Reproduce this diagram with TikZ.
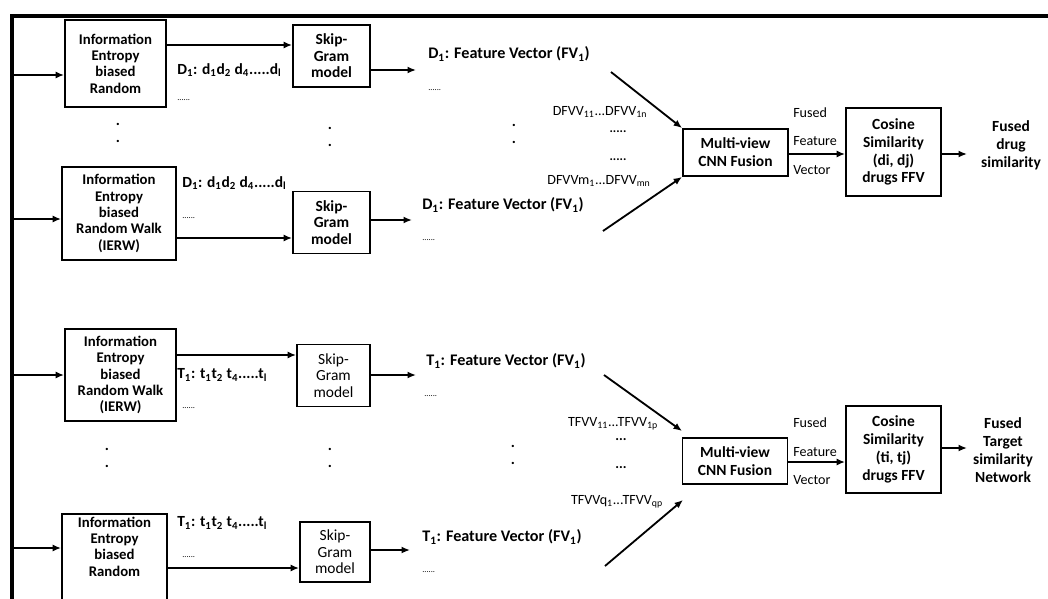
\documentclass[tikz,border=0pt]{standalone}
\usepackage{fontspec}
\setmainfont{Carlito}
\usetikzlibrary{arrows.meta}

\tikzset{
  walkbox/.style={draw, line width=1.3pt, align=center, inner sep=2pt,
    font=\bfseries\fontsize{10.5}{11.6}\selectfont},
  skipbox/.style={draw, line width=1.3pt, align=center, inner sep=1pt,
    minimum height=1.55cm, font=\bfseries\fontsize{11}{11.8}\selectfont},
  skipboxT/.style={skipbox, font=\fontsize{11}{11.8}\selectfont},
  fusebox/.style={draw, line width=1.3pt, align=center, inner sep=1pt,
    font=\bfseries\fontsize{11}{12.7}\selectfont},
  seqlab/.style={anchor=west, inner sep=0pt, font=\bfseries\fontsize{11}{12}\selectfont},
  veclab/.style={anchor=west, inner sep=0pt, font=\bfseries\fontsize{11.5}{12}\selectfont},
  viewlab/.style={inner sep=0pt, font=\fontsize{10}{11}\selectfont},
  fflab/.style={anchor=west, inner sep=0pt, font=\fontsize{10}{11}\selectfont},
  tinydots/.style={anchor=west, inner sep=0pt, font=\fontsize{6}{6}\selectfont},
  vdots/.style={align=center, inner sep=0pt, font=\bfseries\fontsize{11}{11.6}\selectfont},
  outlab/.style={align=center, inner sep=0pt, font=\bfseries\fontsize{11}{12.7}\selectfont},
  arr/.style={-{Latex[length=6pt,width=5pt]}, line width=1.3pt},
}

\begin{document}
\begin{tikzpicture}[x=0.025cm, y=-0.025cm]
  \useasboundingbox (0,0) rectangle (1048,599);
  \clip (0,0) rectangle (1048,599);

  % frame
  \coordinate (topL) at (10,16);
  \coordinate (topR) at (1048,16);
  \coordinate (botL) at (12,600);
  \draw[line width=2.4pt] (topR) -- (12,16) -- (botL);

  % drug side
  \node[walkbox, minimum width=2.525cm, minimum height=2.175cm] (walkD1) at (115.5,63.5) {Information\\Entropy\\biased\\Random};
  \node[walkbox, minimum width=2.85cm, minimum height=2.325cm] (walkD2) at (119,213.5) {Information\\Entropy\\biased\\Random Walk\\(IERW)};
  \node[skipbox, minimum width=1.925cm] (skipD1) at (331.5,56) {Skip-\\Gram\\model};
  \node[skipbox, minimum width=1.925cm] (skipD2) at (331.5,222.5) {Skip-\\Gram\\model};

  \node[seqlab] (seqD1) at (177,70) {D\textsubscript{1}: d\textsubscript{1}d\textsubscript{2} d\textsubscript{4}.....d\textsubscript{l}};
  \node[tinydots] (dotD1) at (177,100) {......};
  \node[seqlab] (seqD2) at (182,183) {D\textsubscript{1}: d\textsubscript{1}d\textsubscript{2} d\textsubscript{4}.....d\textsubscript{l}};
  \node[tinydots] (dotD2) at (182,218) {......};

  \node[veclab] (fvD1) at (428,54) {D\textsubscript{1}: Feature Vector (FV\textsubscript{1})};
  \node[tinydots] (fdotD1) at (428,90) {......};
  \node[veclab] (fvD2) at (422,205) {D\textsubscript{1}: Feature Vector (FV\textsubscript{1})};
  \node[tinydots] (fdotD2) at (422,240) {......};

  \node[vdots] (vdD1) at (118,133) {.\\.};
  \node[vdots] (vdD2) at (330,137) {.\\.};
  \node[vdots] (vdD3) at (514,134) {.\\.};

  \node[viewlab] (dfvA) at (600,112) {DFVV\textsubscript{11}...DFVV\textsubscript{1n}};
  \node[viewlab, font=\bfseries\fontsize{9}{10}\selectfont] (dfvdotA) at (618,132) {.....};
  \node[viewlab, font=\bfseries\fontsize{9}{10}\selectfont] (dfvdotB) at (618,160) {.....};
  \node[viewlab] (dfvB) at (599,181) {DFVVm\textsubscript{1}...DFVV\textsubscript{mn}};

  \node[fusebox, minimum width=2.625cm, minimum height=1.175cm] (cnnD) at (735.5,152.5) {Multi-view\\CNN Fusion};
  \node[fusebox, minimum width=2.375cm, minimum height=2.2cm] (cosD) at (893.5,152) {Cosine\\Similarity\\(di, dj)\\drugs FFV};
  \node[outlab] (outD) at (1011,145) {Fused\\drug\\similarity};
  \node[fflab] (fusD) at (793,113) {Fused};
  \node[fflab] (feaD) at (793,141) {Feature};
  \node[fflab] (vecD) at (793,170) {Vector};

  % target side
  \node[walkbox, minimum width=2.775cm, minimum height=2.3cm] (walkT1) at (120.5,375) {Information\\Entropy\\biased\\Random Walk\\(IERW)};
  \node[walkbox, minimum width=2.625cm, anchor=north, text depth=48pt] (walkT2) at (114.5,513) {Information\\Entropy\\biased\\Random};
  \node[skipboxT, minimum width=1.825cm] (skipT1) at (333.5,375.5) {Skip-\\Gram\\model};
  \node[skipboxT, minimum width=1.75cm, minimum height=1.5cm] (skipT2) at (335,552) {Skip-\\Gram\\model};

  \node[seqlab] (seqT1) at (177,375) {T\textsubscript{1}: t\textsubscript{1}t\textsubscript{2} t\textsubscript{4}.....t\textsubscript{l}};
  \node[tinydots] (dotT1) at (182,408) {......};
  \node[seqlab] (seqT2) at (177,523) {T\textsubscript{1}: t\textsubscript{1}t\textsubscript{2} t\textsubscript{4}.....t\textsubscript{l}};
  \node[tinydots] (dotT2) at (182,557) {......};

  \node[veclab] (fvT1) at (426,361) {T\textsubscript{1}: Feature Vector (FV\textsubscript{1})};
  \node[tinydots] (fdotT1) at (424,396) {......};
  \node[veclab] (fvT2) at (422,537) {T\textsubscript{1}: Feature Vector (FV\textsubscript{1})};
  \node[tinydots] (fdotT2) at (422,572) {......};

  \node[vdots] (vdT1) at (107,458) {.\\.};
  \node[vdots] (vdT2) at (330,458) {.\\.};
  \node[vdots] (vdT3) at (513,455) {.\\.};

  \node[viewlab] (tfvA) at (613,424) {TFVV\textsubscript{11}...TFVV\textsubscript{1p}};
  \node[viewlab, font=\bfseries\fontsize{10}{11}\selectfont] (tfvdotA) at (621,440) {...};
  \node[viewlab, font=\bfseries\fontsize{10}{11}\selectfont] (tfvdotB) at (621,468) {...};
  \node[viewlab] (tfvB) at (617,502) {TFVVq\textsubscript{1}...TFVV\textsubscript{qp}};

  \node[fusebox, minimum width=2.625cm, minimum height=1.15cm] (cnnT) at (735,461) {Multi-view\\CNN Fusion};
  \node[fusebox, minimum width=2.375cm, minimum height=2.175cm] (cosT) at (893.5,449.5) {Cosine\\Similarity\\(ti, tj)\\drugs FFV};
  \node[outlab] (outT) at (1003,450) {Fused\\Target\\similarity\\Network};
  \node[fflab] (fusT) at (793,423) {Fused};
  \node[fflab] (feaT) at (793,452) {Feature};
  \node[fflab] (vecT) at (793,480) {Vector};

  % free ends
  \coordinate (inD1) at (12,75);
  \coordinate (inD2) at (12,219);
  \coordinate (inT1) at (12,375);
  \coordinate (inT2) at (12,548);
  \coordinate (endD1) at (416,70);
  \coordinate (endD2) at (412,220);
  \coordinate (endT1) at (416,375);
  \coordinate (endT2) at (410,550);
  \coordinate (fromD1) at (611,72);
  \coordinate (fromD2) at (603,231);
  \coordinate (fromT1) at (604,375);
  \coordinate (fromT2) at (605,566);
  \coordinate (toT1) at (682,431);
  \coordinate (toT2) at (683,500);
  \coordinate (resD) at (967,154);
  \coordinate (resT) at (967,448);

  % connectors
  \draw[arr] (inD1) -- (inD1 -| walkD1.west);
  \draw[arr] (inD2) -- (inD2 -| walkD2.west);
  \draw[arr] (inT1) -- (inT1 -| walkT1.west);
  \draw[arr] (inT2) -- (inT2 -| walkT2.west);

  \draw[arr] (walkD1.east |- 0,45) -- (skipD1.west |- 0,45);
  \draw[arr] (walkD2.east |- 0,238) -- (skipD2.west |- 0,238);
  \draw[arr] (walkT1.east |- 0,355) -- (skipT1.west |- 0,355);
  \draw[arr] (walkT2.east |- 0,568) -- (skipT2.west |- 0,568);

  \draw[arr] (skipD1.east |- endD1) -- (endD1);
  \draw[arr] (skipD2.east |- endD2) -- (endD2);
  \draw[arr] (skipT1.east |- endT1) -- (endT1);
  \draw[arr] (skipT2.east |- endT2) -- (endT2);

  \draw[arr] (fromD1) -- (cnnD.north west);
  \draw[arr] (fromD2) -- (cnnD.south west);
  \draw[arr] (fromT1) -- (toT1);
  \draw[arr] (fromT2) -- (toT2);

  \draw[arr] (cnnD.east |- 0,154) -- (cosD.west |- 0,154);
  \draw[arr] (cnnT.east |- 0,462) -- (cosT.west |- 0,462);
  \draw[arr] (cosD.east |- resD) -- (resD);
  \draw[arr] (cosT.east |- resT) -- (resT);
\end{tikzpicture}
\end{document}
